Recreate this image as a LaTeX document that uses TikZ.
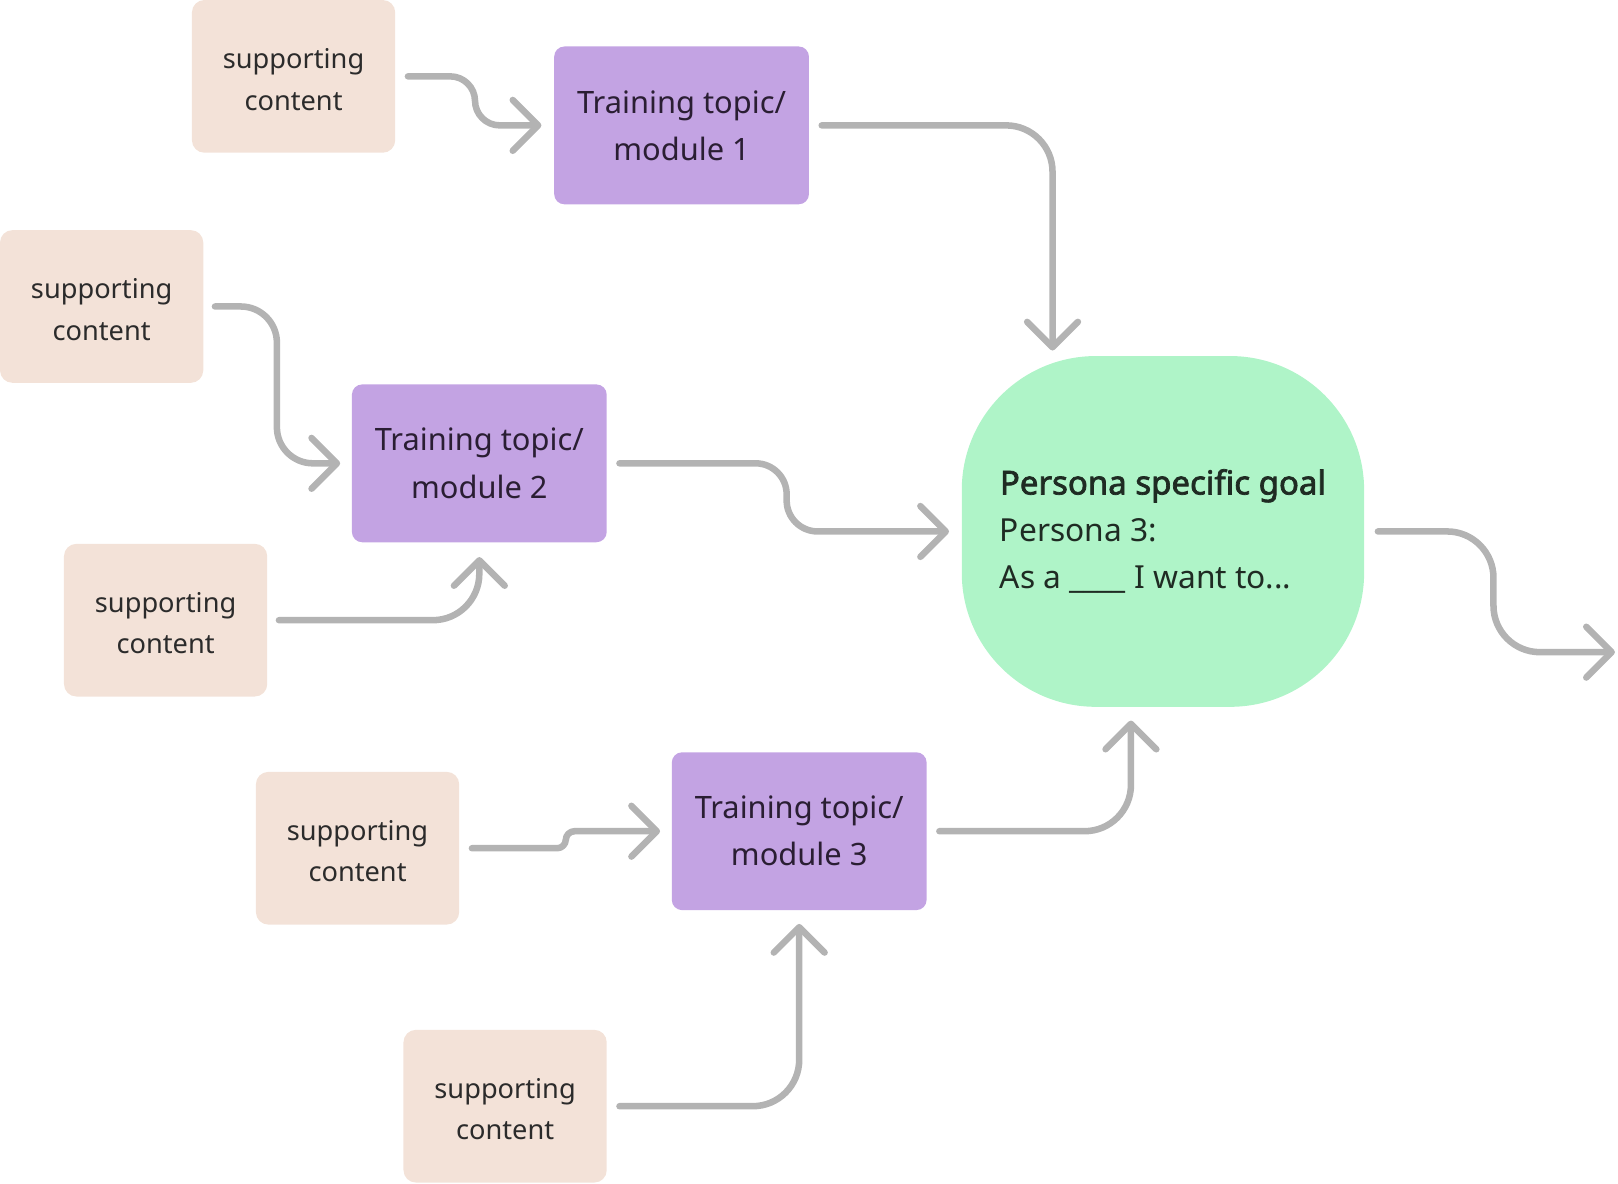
\documentclass[tikz,border=0pt]{standalone}
\usepackage{fontspec}
\setmainfont{Noto Sans}
\newfontfamily\goalbold{Noto Sans}[FakeBold=2.2]
\usetikzlibrary{arrows.meta,calc}
\definecolor{supfill}{HTML}{F3E2D8}
\definecolor{modfill}{HTML}{C3A3E3}
\definecolor{goalfill}{HTML}{AFF4C8}
\definecolor{arrowgray}{HTML}{B3B3B3}
\definecolor{txt}{HTML}{2B2B2B}
\definecolor{modtxt}{HTML}{2A1E33}
\definecolor{goaltxt}{HTML}{1F2B23}
\newcommand{\suptext}{\rule{0pt}{14.4pt}supporting\\content}
\begin{document}
\begin{tikzpicture}[x=0.02cm,y=-0.02cm,
  supbox/.style={fill=supfill, rounded corners=0.24cm, minimum width=3.94cm, minimum height=2.96cm, inner sep=0pt, align=center, text=txt, font=\fontsize{15}{23}\selectfont},
  modbox/.style={fill=modfill, rounded corners=0.2cm, minimum width=4.94cm, minimum height=3.06cm, inner sep=0pt, align=center, text=modtxt, font=\fontsize{17}{26}\selectfont},
  goalbox/.style={fill=goalfill, rounded corners=2.6cm, minimum width=7.8cm, minimum height=6.8cm, inner sep=0pt, align=left, text=goaltxt, font=\fontsize{17.5}{26}\selectfont},
  conn/.style={draw=arrowgray, line width=3.6pt, line cap=round, line join=round, -{Straight Barb[length=14pt, width=28pt, round]}}
]
\useasboundingbox (0,0) rectangle (1568,1147);

\node[supbox] (s1) at (284.5,74) {\suptext};
\node[supbox] (s2) at (98.5,297) {\suptext};
\node[supbox] (s3) at (160.5,601) {\suptext};
\node[supbox] (s4) at (346.5,822) {\suptext};
\node[supbox] (s5) at (489.5,1072) {\suptext};

\node[modbox] (m1) at (660.5,121.5) {Training topic/\\module 1};
\node[modbox] (m2) at (464.5,449) {Training topic/\\module 2};
\node[modbox] (m3) at (774.5,805.5) {Training topic/\\module 3};

\node[goalbox] (goal) at (1127,515) {{\goalbold\fontsize{18.2}{26}\selectfont Persona specific goal}\\Persona 3:\\As a \_\_\_\_ I want to...};

\coordinate (outend) at (1565,632);

\draw[conn, rounded corners=0.48cm] ($(s1.east)+(12,0)$) -- ($(s1.east)+(77,0)$) |- ($(m1.west)+(-12,0)$);
\draw[conn, rounded corners=0.9cm] ($(m1.east)+(12,0)$) -| ($(goal.north)+(-107,-5)$);
\draw[conn, rounded corners=0.7cm] ($(s2.east)+(11,0)$) -- ($(s2.east)+(71,0)$) |- ($(m2.west)+(-11,0)$);
\draw[conn, rounded corners=0.9cm] ($(s3.east)+(11,0)$) -| ($(m2.south)+(0,14)$);
\draw[conn, rounded corners=0.6cm] ($(m2.east)+(12,0)$) -- ($(m2.east)+(174,0)$) |- ($(goal.west)+(-12,0)$);
\draw[conn, rounded corners=0.9cm] ($(goal.east)+(13,0)$) -- ($(goal.east)+(125,0)$) |- (outend);
\draw[conn, rounded corners=0.17cm] ($(s4.east)+(12,0)$) -- ($(s4.east)+(103,0)$) |- ($(m3.west)+(-11,0)$);
\draw[conn, rounded corners=0.9cm] ($(m3.east)+(12,0)$) -| ($(goal.south)+(-31,13)$);
\draw[conn, rounded corners=0.9cm] ($(s5.east)+(12,0)$) -| ($(m3.south)+(0,13)$);
\end{tikzpicture}
\end{document}
